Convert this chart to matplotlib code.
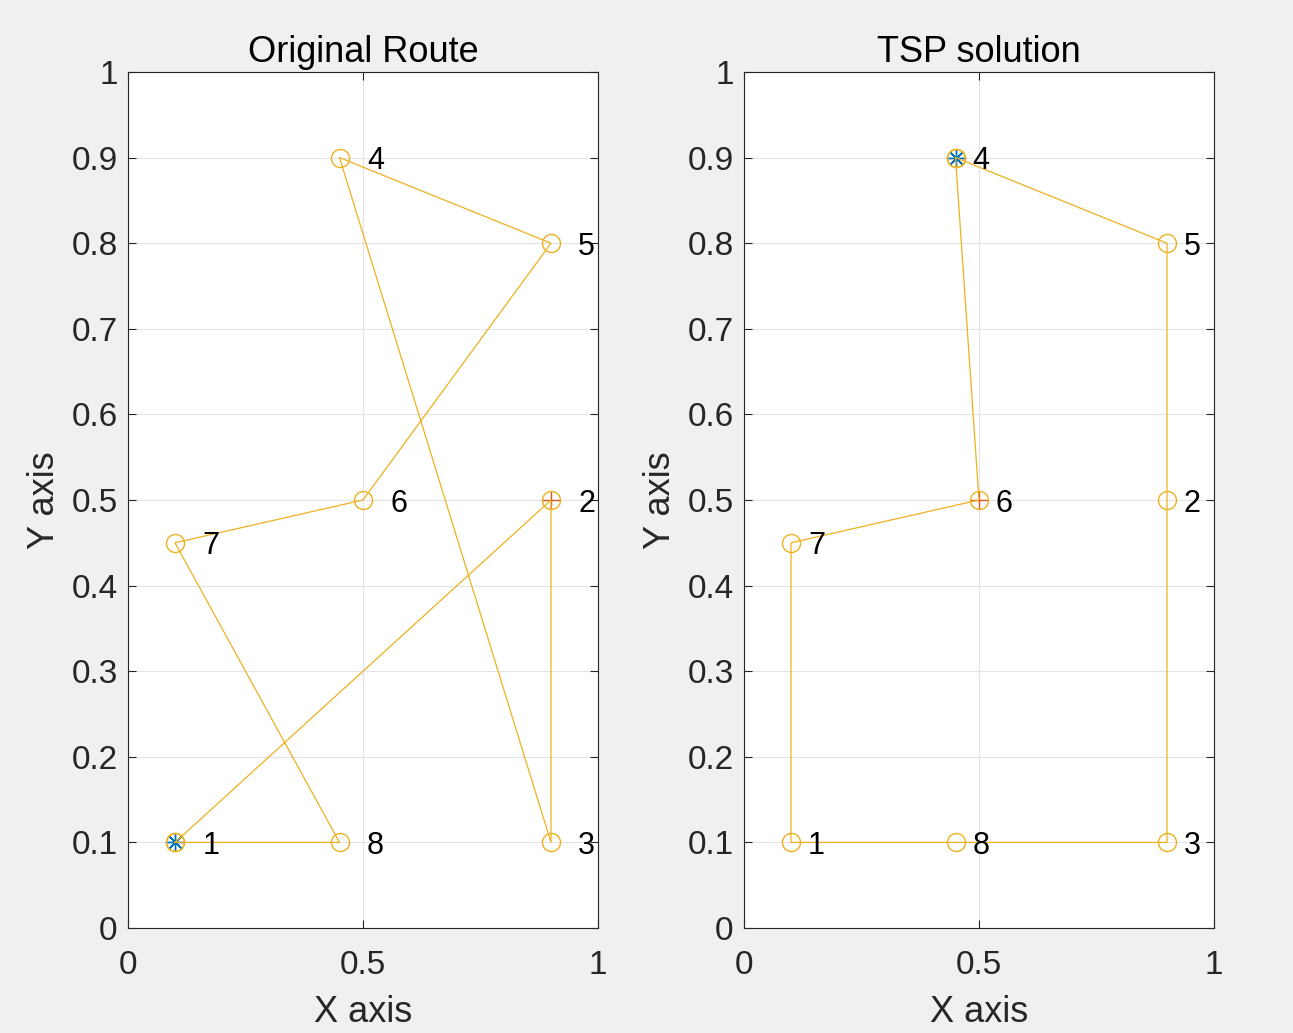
import matplotlib
matplotlib.use("Agg")
import matplotlib.pyplot as plt

plt.rcParams['font.family'] = ['Liberation Sans', 'DejaVu Sans']

# city coordinates
city_x = [0.1, 0.9, 0.9, 0.45, 0.9, 0.5, 0.1, 0.45]
city_y = [0.1, 0.5, 0.1, 0.9, 0.8, 0.5, 0.45, 0.1]
city_names = ['1', '2', '3', '4', '5', '6', '7', '8']

# routes (1-based city numbers)
original_route = [1, 8, 7, 6, 5, 4, 3, 2]
tsp_route = [4, 5, 2, 3, 8, 1, 7, 6]

titles = ['Original Route', 'TSP solution']
label_offsets = [0.058, 0.036]

BLUE = '#0072BD'
ORANGE = '#D95319'
YELLOW = '#EDB120'
GRAYTXT = '#262626'

fig = plt.figure(figsize=(12.93, 10.33), dpi=100)
fig.patch.set_facecolor('#f0f0f0')

W, H = 1293, 1033
axes_px = [(128, 72, 598, 928), (744, 72, 1214, 928)]

for k, route in enumerate([original_route, tsp_route]):
    l, t, r, b = axes_px[k]
    ax = fig.add_axes([l / W, 1 - b / H, (r - l) / W, (b - t) / H])

    idx = [c - 1 for c in route] + [route[0] - 1]
    rx = [city_x[i] for i in idx]
    ry = [city_y[i] for i in idx]

    # start = asterisk, end = plus (MATLAB style colour order)
    ax.plot(rx[0], ry[0], marker=(8, 2, 0), linestyle='none', color=BLUE,
            markersize=12, markeredgewidth=1.0, zorder=3)
    ax.plot(rx[-2], ry[-2], '+', color=ORANGE, markersize=13, markeredgewidth=1.0, zorder=3)
    ax.plot(rx, ry, '-o', color=YELLOW, markerfacecolor='none', markersize=13,
            linewidth=0.9, markeredgewidth=1.0, zorder=4)

    for i in range(len(city_x)):
        ax.text(city_x[i] + label_offsets[k], city_y[i], city_names[i],
                ha='left', va='center_baseline', fontsize=22, color='black', zorder=5)

    ax.set_xlim(0, 1)
    ax.set_ylim(0, 1)
    ax.set_xticks([0, 0.5, 1])
    ax.set_xticklabels(['0', '0.5', '1'])
    ax.set_yticks([i / 10 for i in range(11)])
    ax.set_yticklabels(['0', '0.1', '0.2', '0.3', '0.4', '0.5', '0.6', '0.7', '0.8', '0.9', '1'])
    ax.grid(True, color='#e3e3e3', linewidth=0.8)
    ax.set_axisbelow(True)
    ax.tick_params(direction='in', length=6, width=0.8, top=True, right=True,
                   labelsize=24, colors=GRAYTXT)
    ax.tick_params(axis='x', pad=16)
    ax.tick_params(axis='y', pad=7.5)
    for s in ax.spines.values():
        s.set_color(GRAYTXT)
        s.set_linewidth(0.8)
    ax.set_title(titles[k], fontsize=26, color='black', pad=7)
    ax.set_xlabel('X axis', fontsize=26, color=GRAYTXT, labelpad=10)
    ax.set_ylabel('Y axis', fontsize=26, color=GRAYTXT, labelpad=7)

fig.savefig('out.png', dpi=100, facecolor=fig.get_facecolor())
